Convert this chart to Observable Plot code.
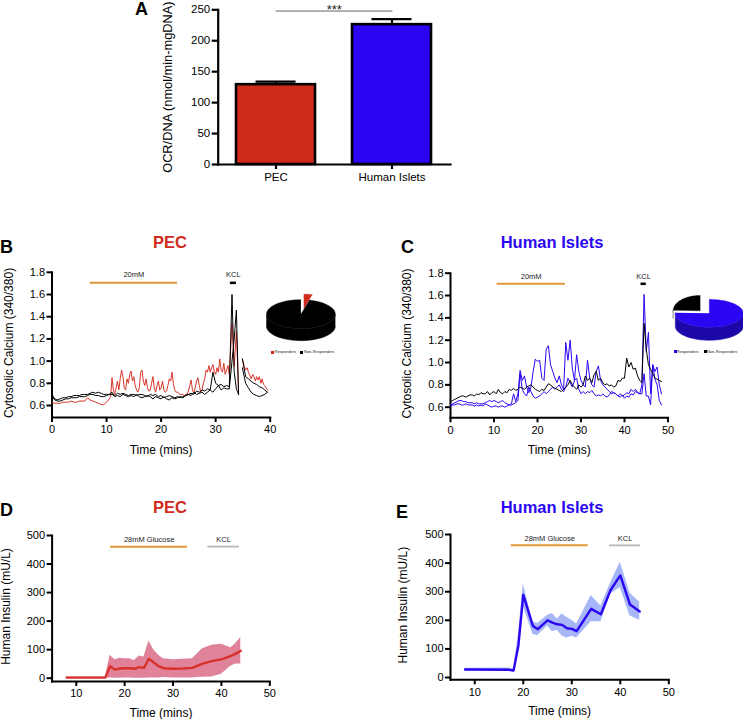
<!DOCTYPE html>
<html><head><meta charset="utf-8">
<script src="https://cdn.jsdelivr.net/npm/d3@7"></script>
<script src="https://cdn.jsdelivr.net/npm/@observablehq/plot@0.6"></script>
<style>
html,body{margin:0;padding:0;background:#fff;overflow:hidden}
#page{position:relative;width:743px;height:719px;overflow:hidden;font-family:"Liberation Sans",Arial,sans-serif;color:#000}
.abs{position:absolute;white-space:nowrap;line-height:1}
.letter{font-size:18px;font-weight:bold}
.title{font-size:16.5px;font-weight:bold;transform:translateX(-50%)}
.lg{font-size:4px;color:#222}
.sw{position:absolute;width:3px;height:3px}
</style></head><body><div id="page"></div>
<script>
// ---------- Panel A ----------
const ocrNames = ["PEC", "Human Islets"];
const ocrMeans = [129, 226];
const ocrUpper = [134, 235];
// ---------- Panel B ----------
const bTimes = [0,.5,1,1.5,2,2.5,3,3.5,4,4.5,5,5.5,6,6.5,7,7.5,8,8.5,9,9.5,10,10.5,11,11.5,12,12.5,13,13.5,14,14.5,15,15.5,16,16.5,17,17.5,18,18.5,19,19.5,20,20.5,21,21.5,22,22.5,23,23.5,24,24.5,25,25.5,26,26.5,27,27.5,28,28.5,29,29.5,30,30.5,31,31.5,32,32.5,33,33.4,33.8,34.2,34.5,34.9,35.5,36,36.5,37,37.5,38,38.5,39,39.5];
const bRedTimes = [...d3.range(0, 10.75, .5), ...d3.range(10.75, 32.75, .25), 33,33.4,33.8,34.2,34.5,34.9,35.2,35.5,35.8,36,36.3,36.5,36.8,37,37.3,37.5,37.8,38,38.3,38.5,38.8,39,39.5];
const bRed = [.63,.62,.62,.62,.63,.63,.63,.64,.63,.63,
 .64,.64,.64,.67,.65,.64,.63,.62,.61,.61,.63,.66,
 .68,.85,.74,.70,.76,.82,.74,.84,.92,.86,.76,.74,.84,.80,.88,.91,.82,.86,.78,.74,.72,.76,.90,.92,
 .82,.78,.84,.76,.73,.74,.80,.86,.76,.72,.78,.82,.74,.76,.82,.74,.72,.73,.78,.84,.82,.90,.80,.74,
 .72,.72,.71,.70,.70,.70,.69,.70,.70,.73,.78,.83,.74,.71,.76,.82,.85,.78,.72,.74,.80,.84,.92,.90,
 .96,.90,.94,.97,.90,.88,.94,.90,1.02,.92,.90,.98,.88,.92,.96,.88,
 1.34,.95,1.27,.72,null,1.02,.96,.92,.94,.90,.87,.84,.88,.86,.82,.86,.83,.86,.80,.84,.79,.78,.74];
const bBlack1 = [.70,.66,.65,.66,.67,.67,.68,.68,.69,.69,
 .69,.70,.70,.70,.71,.72,.71,.72,.71,.70,
 .70,.70,.70,.69,.71,.70,.71,.70,.69,.70,
 .70,.69,.70,.70,.69,.68,.70,.69,.70,.68,
 .69,.67,.68,.69,.68,.67,.68,.67,.68,.69,
 .70,.71,.70,.73,.72,.74,.73,.75,.74,.90,
 .80,.78,.79,.77,.78,.77,
 1.60,.90,.75,.70,null,1.02,.86,.84,.82,.80,.79,.77,.76,.74,.72];
const bBlack2 = [.68,.65,.64,.64,.65,.66,.66,.67,.67,.67,
 .68,.68,.68,.69,.70,.70,.69,.69,.68,.68,
 .69,.70,.72,.68,.69,.68,.70,.69,.68,.69,
 .68,.70,.68,.67,.68,.69,.68,.66,.68,.67,
 .66,.68,.66,.65,.67,.66,.67,.68,.67,.69,
 .70,.69,.72,.70,.71,.72,.70,.72,.74,.72,
 .75,.78,.74,.76,.75,.75,
 1.0,1.20,1.46,.70,null,.94,.80,.76,.72,.70,.69,.68,.69,.70,.72];
// ---------- Panel C ----------
const cTimes = d3.range(0, 49, 0.5);
const cBlue1 = [.62,.63,.64,.65,.66,.66,.65,.65,.64,.64,
 .64,.63,.64,.63,.63,.63,.64,.65,.66,.65,
 .66,.65,.64,.65,.66,.64,.63,.62,.63,.72,
 .65,.72,.93,.84,.88,.78,.73,.78,.92,1.03,
 1.01,1.02,.86,.84,1.12,1.15,.98,.92,.86,.82,
 .88,.80,.76,1.18,1.02,1.20,.95,.84,1.07,.92,
 .84,.80,.78,1.02,.86,.80,.78,.92,.97,.84,
 .80,.78,.76,.74,.72,.73,.72,.70,.72,.70,
 .71,.73,.72,.76,.74,.76,.73,.72,.80,1.61,
 1.1,1.27,.72,.98,.92,.96,.80,.72];
const cBlue2 = [.61,.62,.62,.63,.63,.62,.62,.63,.62,.62,
 .62,.61,.62,.61,.62,.61,.63,.62,.61,.60,
 .61,.61,.60,.61,.61,.60,.61,.62,.62,.63,
 .64,.66,.90,.76,.72,.70,.78,.74,.70,.68,
 .69,.70,.72,.74,.72,.74,.76,.78,.76,.78,
 .80,.76,.74,.78,.86,.82,.78,.84,.86,.76,
 .72,.74,.72,.74,.73,.75,.72,.70,.71,.70,
 .72,.70,.69,.71,.74,.73,.72,.70,.69,.71,
 .68,.70,.69,.72,.71,.74,.73,.72,.72,.90,
 .70,.70,.62,.98,.85,.80,.66,.62];
const cBlack = [.65,.66,.67,.68,.69,.70,.70,.69,.70,.71,
 .71,.70,.72,.71,.73,.72,.72,.74,.71,.73,
 .74,.72,.76,.73,.72,.74,.73,.76,.75,.77,
 .75,.76,.78,.77,.76,.78,.79,.80,.78,.76,
 .75,.74,.76,.75,.78,.81,.80,.78,.77,.76,
 .75,.74,.76,.78,.80,.84,.80,.78,.76,.80,
 .78,.80,.88,.84,.86,.82,.89,.92,.84,.86,
 .82,.80,.81,.79,.80,.78,.79,.84,.83,.86,
 .86,1.04,.96,1.0,.94,.95,.88,.84,.82,1.35,
 1.12,.98,.94,.90,.86,.85,.84,.83];
// ---------- Panel D ----------
const dTimes = [8,16,17,18,19,20,21,22,23,24,25,26,27,28,30,32,34,35,36,38,40,42,43,44];
const dMean  = [2,2,42,30,34,35,35,33,39,36,68,55,42,35,33,34,36,43,50,60,66,78,86,96];
const dUpper = [4,4,80,65,70,68,68,62,78,74,130,100,80,68,65,66,68,85,102,115,119,107,122,143];
const dLower = [0,0,1,0,0,1,1,0,0,0,1,1,1,2,1,1,1,2,3,4,14,43,50,50];
// ---------- Panel E ----------
const eTimes = [8,17,18,19,20,22,23,25,26,27,28,29,30,31,34,36,38,40,42,44];
const eMean  = [28,27,24,112,289,180,169,200,192,186,184,172,170,162,240,221,306,357,255,231];
const eUpper = [32,33,30,150,327,193,190,218,224,205,222,210,200,187,287,250,330,403,295,263];
const eLower = [25,24,20,90,250,150,147,180,160,165,145,138,144,138,195,195,292,315,215,200];
// ---------- Pies ----------
const pieLabels = ["Responders", "Non-Responders"];
const piePec = [4, 96];
const pieIslets = [75.5, 24.5];
// ---------- Colours ----------
const RED = "#cf2a1c", BLUE = "#2a06f2", ORANGE = "#e2983a", GREY = "#bdbdbd";

const page = document.getElementById("page");
const FONT = "'Liberation Sans', Arial, sans-serif";
const zip = (ts, vs) => ts.map((t, i) => ({t, v: vs[i]}));

function place(svg, left, top) {
  svg.style.position = "absolute"; svg.style.left = left + "px"; svg.style.top = top + "px";
  svg.style.background = "transparent"; svg.style.maxWidth = "none"; svg.style.overflow = "visible";
  page.appendChild(svg);
}
function html(cls, text, left, top, color) {
  const d = document.createElement("div");
  d.className = "abs " + cls; d.textContent = text;
  d.style.left = left + "px"; d.style.top = top + "px";
  if (color) d.style.color = color;
  page.appendChild(d);
}
function axes(o) {
  return [
    Plot.frame({anchor: "left", stroke: "#000", strokeWidth: o.sw}),
    Plot.frame({anchor: "bottom", stroke: "#000", strokeWidth: o.sw}),
    Plot.axisX({ticks: o.xTicks, tickSize: 5, tickPadding: 3, strokeWidth: o.sw, fontSize: 11, label: null, tickFormat: "d"}),
    Plot.axisY({ticks: o.yTicks, tickSize: 5, tickPadding: 2, strokeWidth: o.sw, fontSize: 11, label: null, tickFormat: o.yFormat}),
    Plot.text([o.xLabel], {frameAnchor: "bottom", dy: o.xLabelDy, fontSize: 12, fill: "#000"}),
    Plot.text([o.yLabel], {frameAnchor: "left", dx: o.yLabelDx, dy: -2, rotate: -90, textAnchor: "middle", fontSize: 12, fill: "#000"})
  ];
}
function annot(name, t1, t2, level, color, w) {
  return [
    Plot.ruleY([level.bar], {x1: t1, x2: t2, stroke: color, strokeWidth: w}),
    Plot.text([name], {x: (t1 + t2) / 2, y: level.txt, fontSize: 7.5, fill: "#222"})
  ];
}

// ---- A ----
const ocr = ocrNames.map((name, i) => ({name, mean: ocrMeans[i], upper: ocrUpper[i]}));
place(Plot.plot({
  width: 455, height: 190, marginLeft: 217.7, marginRight: 5, marginTop: 9.3, marginBottom: 26,
  style: {fontFamily: FONT, background: "transparent", color: "#000"},
  x: {domain: ocrNames, paddingInner: .32, paddingOuter: .16, label: null},
  y: {domain: [0, 250], label: null},
  marks: [
    Plot.ruleX(ocr, {x: "name", y1: "mean", y2: "upper", stroke: "#000", strokeWidth: 2.2}),
    Plot.tickY(ocr, {x: "name", y: "upper", stroke: "#000", strokeWidth: 2.2, insetLeft: 19.5, insetRight: 19.5}),
    Plot.barY(ocr, {x: "name", y: "mean", fill: d => d.name === "PEC" ? RED : BLUE, stroke: "#000", strokeWidth: 2.6}),
    Plot.frame({anchor: "left", stroke: "#000", strokeWidth: 2.2}),
    Plot.frame({anchor: "bottom", stroke: "#000", strokeWidth: 2.2}),
    Plot.axisX({tickSize: 5, tickPadding: 3, strokeWidth: 2.2, fontSize: 11.5, label: null}),
    Plot.axisY({ticks: [0,50,100,150,200,250], tickSize: 6, tickPadding: 2, strokeWidth: 2.2, fontSize: 11.5, label: null}),
    Plot.line([{n: ocrNames[0], v: 248}, {n: ocrNames[1], v: 248}], {x: "n", y: "v", stroke: "#666", strokeWidth: 1}),
    Plot.text(["***"], {frameAnchor: "top", dy: -5, fontSize: 13, fill: "#222"}),
    Plot.text(["OCR/DNA (nmol/min-mgDNA)"], {frameAnchor: "left", dx: -50, rotate: -90, textAnchor: "middle", fontSize: 12.8, fill: "#000"})
  ]
}), 0, 0);

// ---- B ----
place(Plot.plot({
  width: 275, height: 455 - 262, marginLeft: 51.5, marginRight: 5.3, marginTop: 9.8, marginBottom: 38,
  style: {fontFamily: FONT, background: "transparent", color: "#000"},
  x: {domain: [0, 40], label: null}, y: {domain: [.492, 1.8], label: null},
  marks: [
    ...axes({sw: 2, xTicks: [0,10,20,30,40], yTicks: [.6,.8,1,1.2,1.4,1.6,1.8], yFormat: ".1f",
      xLabel: "Time (mins)", xLabelDy: 36, yLabel: "Cytosolic Calcium (340/380)", yLabelDx: -43}),
    ...annot("20mM", 7, 23, {bar: 1.705, txt: 1.775}, ORANGE, 2),
    ...annot("KCL", 32.7, 33.8, {bar: 1.705, txt: 1.775}, "#000", 2.5),
    Plot.line(zip(bRedTimes, bRed), {x: "t", y: "v", stroke: "#d8352a", strokeWidth: 1}),
    Plot.line(zip(bTimes, bBlack2), {x: "t", y: "v", stroke: "#000", strokeWidth: 1}),
    Plot.line(zip(bTimes, bBlack1), {x: "t", y: "v", stroke: "#000", strokeWidth: 1})
  ]
}), 0, 262);

// ---- C ----
place(Plot.plot({
  width: 275, height: 455 - 262, marginLeft: 50, marginRight: 275 - 217.5 - 50, marginTop: 10.7, marginBottom: 37.7,
  style: {fontFamily: FONT, background: "transparent", color: "#000"},
  x: {domain: [0, 50], label: null}, y: {domain: [.505, 1.8], label: null},
  marks: [
    ...axes({sw: 2, xTicks: [0,10,20,30,40,50], yTicks: [.6,.8,1,1.2,1.4,1.6,1.8], yFormat: ".1f",
      xLabel: "Time (mins)", xLabelDy: 36, yLabel: "Cytosolic Calcium (340/380)", yLabelDx: -43}),
    ...annot("20mM", 10.7, 26.4, {bar: 1.705, txt: 1.77}, ORANGE, 2),
    ...annot("KCL", 43.8, 45, {bar: 1.705, txt: 1.77}, "#000", 2.5),
    Plot.line(zip(cTimes, cBlue2), {x: "t", y: "v", stroke: BLUE, strokeWidth: 1}),
    Plot.line(zip(cTimes, cBlue1), {x: "t", y: "v", stroke: BLUE, strokeWidth: 1}),
    Plot.line(zip(cTimes, cBlack), {x: "t", y: "v", stroke: "#000", strokeWidth: 1})
  ]
}), 400, 262);

// ---- D ----
place(Plot.plot({
  width: 275, height: 719 - 525, marginLeft: 51.6, marginRight: 5.7, marginTop: 10, marginBottom: 38,
  style: {fontFamily: FONT, background: "transparent", color: "#000"},
  x: {domain: [5, 50], label: null}, y: {domain: [-11.6, 500], label: null},
  marks: [
    Plot.areaY(dTimes.map((t, i) => ({t, lo: dLower[i], hi: dUpper[i]})), {x: "t", y1: "lo", y2: "hi", fill: "#e0839a"}),
    ...axes({sw: 2, xTicks: [10,20,30,40,50], yTicks: [0,100,200,300,400,500], yFormat: "d",
      xLabel: "Time (mins)", xLabelDy: 35, yLabel: "Human Insulin (mU/L)", yLabelDx: -46}),
    ...annot("28mM Glucose", 17.1, 33, {bar: 461, txt: 486}, ORANGE, 2),
    ...annot("KCL", 37.2, 43.7, {bar: 461, txt: 486}, GREY, 2),
    Plot.line(zip(dTimes, dMean), {x: "t", y: "v", stroke: "#d8302a", strokeWidth: 2.4})
  ]
}), 0, 525);

// ---- E ----
place(Plot.plot({
  width: 275, height: 719 - 524, marginLeft: 50, marginRight: 275 - 218.3 - 50, marginTop: 10, marginBottom: 39.7,
  style: {fontFamily: FONT, background: "transparent", color: "#000"},
  x: {domain: [5, 50], label: null}, y: {domain: [-8, 500], label: null},
  marks: [
    Plot.areaY(eTimes.map((t, i) => ({t, lo: eLower[i], hi: eUpper[i]})), {x: "t", y1: "lo", y2: "hi", fill: "#a6b6f6"}),
    ...axes({sw: 2, xTicks: [10,20,30,40,50], yTicks: [0,100,200,300,400,500], yFormat: "d",
      xLabel: "Time (mins)", xLabelDy: 35, yLabel: "Human Insulin (mU/L)", yLabelDx: -47}),
    ...annot("28mM Glucose", 17.5, 33.4, {bar: 462, txt: 487}, ORANGE, 2),
    ...annot("KCL", 37.8, 44.2, {bar: 462, txt: 487}, GREY, 2),
    Plot.line(zip(eTimes, eMean), {x: "t", y: "v", stroke: BLUE, strokeWidth: 2.4})
  ]
}), 400, 524);

// ---- pies ----
function pie(values, styles, cx, cy, rx, ry, depth) {
  const arcs = d3.pie().sort(null).value(d => d)(values);
  const W = 2.4 * rx, H = 3.8 * ry, depthU = depth / ry;
  const marks = [];
  arcs.forEach((a, i) => {
    const s = styles[i];
    const pts = d3.range(0, 41).map(k => a.startAngle + (a.endAngle - a.startAngle) * k / 40);
    const px = th => s.dx / rx + s.rx * Math.sin(th);
    const py = th => s.dy / ry + s.ry * Math.cos(th);
    const front = pts.filter(th => Math.cos(th) <= 0.05);
    if (front.length && s.d > 0) {
      const wall = [...front.map(th => ({x: px(th), y: py(th)})),
                    ...front.slice().reverse().map(th => ({x: px(th), y: py(th) - depthU * s.d}))];
      marks.push(Plot.line(wall, {x: "x", y: "y", fill: s.wall, stroke: s.wall, strokeWidth: .5}));
    }
    const top = [{x: s.dx / rx, y: s.dy / ry}, ...pts.map(th => ({x: px(th), y: py(th)}))];
    marks.push(Plot.line(top, {x: "x", y: "y", fill: s.top, stroke: s.top, strokeWidth: .3}));
  });
  place(Plot.plot({
    width: W, height: H, margin: 0,
    x: {domain: [-1.2, 1.2], axis: null}, y: {domain: [-2.1, 1.7], axis: null},
    style: {background: "transparent"},
    marks
  }), cx - W / 2, cy - 1.7 * ry);
}
pie(piePec, [
  {top: "#d2291d", wall: "#8a1a12", dx: 3, dy: 5.5, rx: 1, ry: 1, d: 0},
  {top: "#000", wall: "#000", dx: 0, dy: 0, rx: 1, ry: 1, d: 1}
], 300.5, 314, 34.5, 14.5, 12);
pie(pieIslets, [
  {top: BLUE, wall: "#1c08a8", dx: 0, dy: 0, rx: 1, ry: 1, d: 1},
  {top: "#000", wall: "#000", dx: -9, dy: 2.5, rx: .8, ry: 1.1, d: .6}
], 709, 313, 34, 14, 13);

// pie legends
const sw = (x, y, c) => { const d = document.createElement("div"); d.className = "sw"; d.style.cssText = `left:${x}px;top:${y}px;background:${c}`; page.appendChild(d); };
sw(270.5, 350.5, RED); html("lg", pieLabels[0], 274.5, 350);
sw(300, 350.5, "#000"); html("lg", pieLabels[1], 304, 350);
sw(673.5, 350, BLUE); html("lg", pieLabels[0], 677, 349.5);
sw(703.5, 350, "#000"); html("lg", pieLabels[1], 707, 349.5);

// letters and titles
html("letter", "A", 135, 0);
html("letter", "B", 0, 238);
html("letter", "C", 401, 238);
html("letter", "D", 0, 501);
html("letter", "E", 396, 503);
html("title", "PEC", 170, 234, RED);
html("title", "Human Islets", 552, 234, BLUE);
html("title", "PEC", 170, 499, RED);
html("title", "Human Islets", 552, 499, BLUE);
</script></body></html>
